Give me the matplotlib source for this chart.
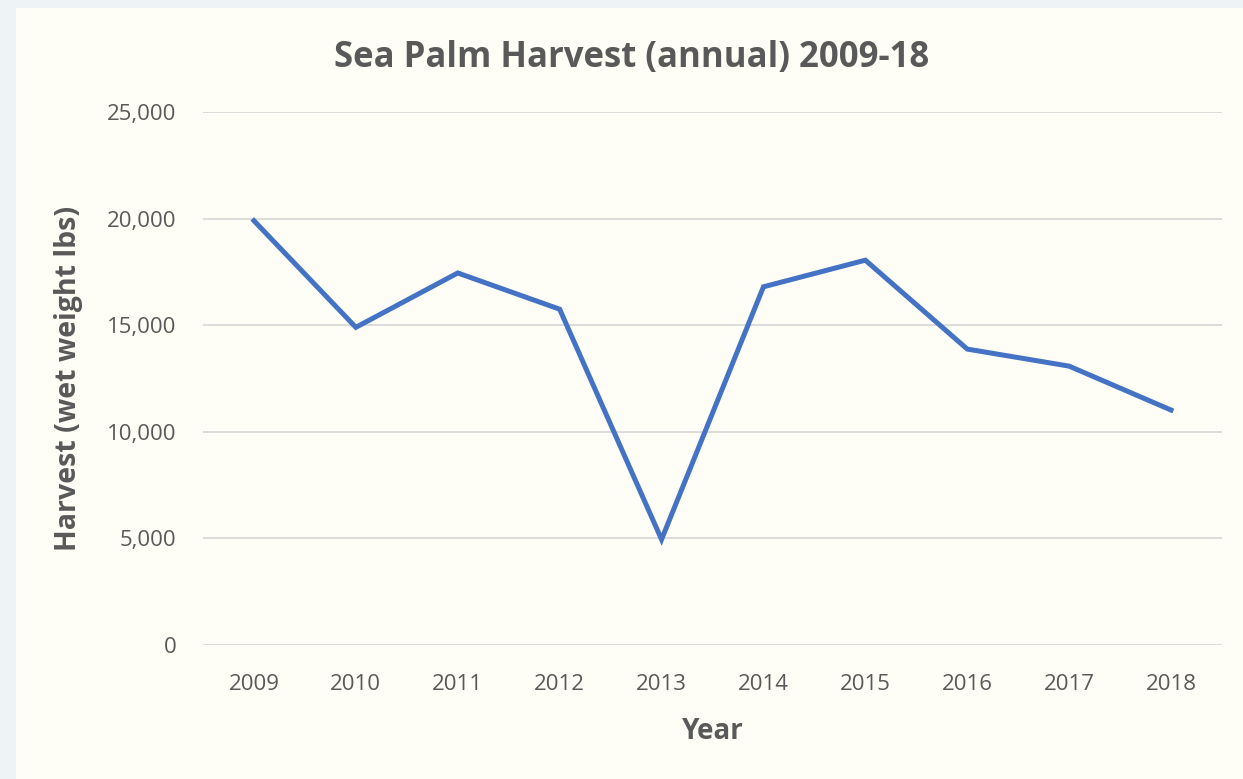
import matplotlib.pyplot as plt
from matplotlib.patches import Rectangle
from matplotlib.ticker import FuncFormatter

plt.rcParams['font.family'] = ['Open Sans', 'DejaVu Sans']

# Annual harvest, wet weight lbs
years = ['2009', '2010', '2011', '2012', '2013', '2014', '2015', '2016', '2017', '2018']
harvest = [19900, 14900, 17450, 15750, 4950, 16800, 18050, 13880, 13080, 11020]

W, H = 1243, 779
fig = plt.figure(figsize=(W / 100, H / 100), dpi=100)
fig.patch.set_facecolor('#EEF4F6')

# chart panel (off-white) over the pale blue frame
fig.add_artist(Rectangle((16 / W, 0), 1 - 16 / W, 1 - 8 / H, transform=fig.transFigure,
                         facecolor='#FEFEF7', edgecolor='none', zorder=0))

ax = fig.add_axes([203 / W, 1 - 645 / H, (1222 - 203) / W, (645 - 112) / H])
ax.set_facecolor('none')

x = range(len(years))
ax.plot(x, harvest, color='#4472C4', linewidth=3.6, solid_joinstyle='miter', zorder=3)

ax.set_xlim(-0.5, len(years) - 0.5)
ax.set_ylim(0, 25000)
ax.set_yticks(range(0, 25001, 5000))
ax.yaxis.set_major_formatter(FuncFormatter(lambda v, p: f'{int(v):,}'))
ax.set_xticks(list(x))
ax.set_xticklabels(years)

ax.grid(axis='y', color='#D9D9D9', linewidth=1.3)
ax.set_axisbelow(True)
for s in ax.spines.values():
    s.set_visible(False)
ax.tick_params(axis='both', length=0, colors='#595959', labelsize=16)
ax.tick_params(axis='y', pad=19)
ax.tick_params(axis='x', pad=21)

ax.set_xlabel('Year', fontsize=20, fontweight='bold', color='#595959', labelpad=16)
ax.set_ylabel('Harvest (wet weight lbs)', fontsize=20.5, fontweight='bold', color='#595959', labelpad=17)
fig.text(632 / W, 1 - 58 / H, 'Sea Palm Harvest (annual) 2009-18', ha='center', va='center',
         fontsize=25, fontweight='bold', color='#595959')

fig.savefig('out.png', dpi=100, facecolor=fig.get_facecolor())
